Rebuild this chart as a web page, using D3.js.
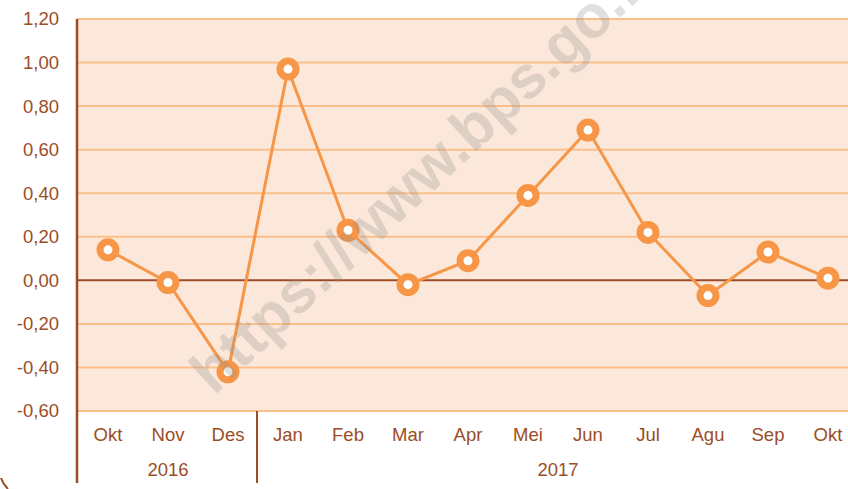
<!DOCTYPE html>
<html><head><meta charset="utf-8">
<script src="https://cdn.jsdelivr.net/npm/d3@7"></script>
<style>html,body{margin:0;padding:0;background:#fff;}svg{display:block;}</style>
</head><body>
<script>
const months = ["Okt","Nov","Des","Jan","Feb","Mar","Apr","Mei","Jun","Jul","Agu","Sep","Okt"];
const keys = months.map((m,i)=>i);
const values = [0.14,-0.01,-0.42,0.97,0.23,-0.02,0.09,0.39,0.69,0.22,-0.07,0.13,0.01];
const yTicks = [-0.6,-0.4,-0.2,0,0.2,0.4,0.6,0.8,1.0,1.2];
const years = [{label:"2016",from:0,to:2},{label:"2017",from:3,to:12}];

(function(){
const W=848,H=489;
const svg=d3.select("body").append("svg").attr("width",W).attr("height",H);
const pL=77, pR=858, pT=19, pB=411;
const x=d3.scaleBand().domain(keys).range([pL+1,pR]);
const y=d3.scaleLinear().domain([-0.6,1.2]).range([pB,pT]);
const brown="#9c4d26", orange="#f79646", grid="#fbbf8a", bg="#fce8da";
const font="'Liberation Sans', Arial, sans-serif";

svg.append("rect").attr("x",pL).attr("y",y(1.2)).attr("width",W-pL).attr("height",y(-0.6)-y(1.2)).attr("fill",bg);

svg.append("g").selectAll("line").data(yTicks.filter(d=>d!==0)).join("line")
 .attr("x1",pL).attr("x2",W).attr("y1",d=>y(d)).attr("y2",d=>y(d))
 .attr("stroke",grid).attr("stroke-width",2);

// zero line
svg.append("line").attr("x1",pL).attr("x2",W).attr("y1",y(0)).attr("y2",y(0)).attr("stroke",brown).attr("stroke-width",2);

// y axis
svg.append("line").attr("x1",pL).attr("x2",pL).attr("y1",y(1.2)).attr("y2",483).attr("stroke",brown).attr("stroke-width",2.5);
const fmt=d=>d3.format(".2f")(d).replace(".",",").replace("−","-");
svg.append("g").selectAll("text").data(yTicks).join("text")
 .attr("x",59).attr("y",d=>y(d)).attr("dy","0.35em").attr("text-anchor","end")
 .attr("font-family",font).attr("font-size",18.5).attr("fill",brown).text(fmt);

// x labels
svg.append("g").selectAll("text").data(keys).join("text")
 .attr("x",d=>x(d)+x.bandwidth()/2).attr("y",441).attr("text-anchor","middle")
 .attr("font-family",font).attr("font-size",18.5).attr("fill",brown).text(d=>months[d]);
svg.append("g").selectAll("text").data(years).join("text")
 .attr("x",d=>(x(d.from)+x(d.to)+x.bandwidth())/2).attr("y",476).attr("text-anchor","middle")
 .attr("font-family",font).attr("font-size",18.5).attr("fill",brown).text(d=>d.label);
svg.append("line").attr("x1",x(3)-1).attr("x2",x(3)-1).attr("y1",pB).attr("y2",483).attr("stroke",brown).attr("stroke-width",2);

// frame corner
svg.append("path").attr("d","M1,478 Q3,484 8,489").attr("fill","none").attr("stroke",brown).attr("stroke-width",2);

// line
const line=d3.line().x((d,i)=>x(i)+x.bandwidth()/2).y(d=>y(d));
svg.append("path").datum(values).attr("d",line).attr("fill","none").attr("stroke",orange).attr("stroke-width",3);
svg.append("g").selectAll("circle").data(values).join("circle")
 .attr("cx",(d,i)=>x(i)+x.bandwidth()/2).attr("cy",d=>y(d)).attr("r",8)
 .attr("fill","#fff").attr("stroke",orange).attr("stroke-width",7);

// watermark (drawn on top, as in the reference)
svg.append("text").attr("transform","translate(214,396) rotate(-43)")
 .attr("font-family",font).attr("font-weight","bold").attr("font-size",60)
 .attr("fill","#8f8f8f").attr("fill-opacity",0.28)
 .text("https://www.bps.go.id");
})();
</script>
</body></html>
